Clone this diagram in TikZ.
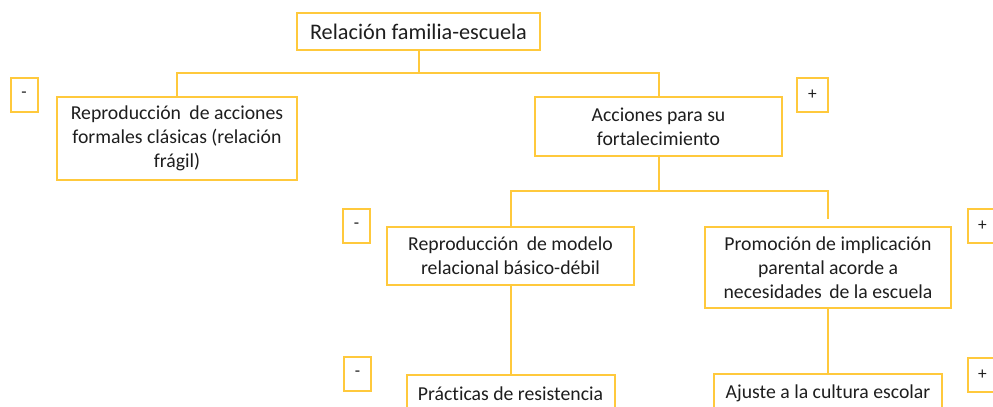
\documentclass[tikz,border=0pt]{standalone}
\usepackage{fontspec}
\setmainfont[Ligatures=NoCommon]{Carlito}
\definecolor{gold}{HTML}{FFC93C}
\definecolor{txt}{HTML}{1E1E1E}
\tikzset{
  x=0.75pt, y=-0.75pt,
  box/.style n args={2}{draw=gold, line width=1.5pt, fill=white, text=txt,
    minimum width=#1*0.75pt, minimum height=#2*0.75pt, inner sep=0pt,
    align=center, font=\fontsize{14.8pt}{18pt}\selectfont},
  sign/.style={box={#1}{34}, font=\fontsize{13pt}{14pt}\selectfont},
  link/.style={draw=gold, line width=1.5pt}
}
\begin{document}
\begin{tikzpicture}
\useasboundingbox (0,0) rectangle (993,407);
\node[box={243}{37}, font=\fontsize{16.7pt}{18pt}\selectfont] (top) at (418.5,31.5) {Relación familia-escuela};
\node[box={240}{83}] (left) at (177,138.5) {Reproducción\hspace{0.2em} de acciones\\formales clásicas (relación\\frágil)};
\node[sign={27}] (m1) at (24,95) {-};
\node[box={247}{59}] (acc) at (658.5,126.5) {Acciones para su\\fortalecimiento};
\node[sign={31}] (p1) at (812.5,95) {+};
\node[box={247}{58}] (modelo) at (510.5,256) {Reproducción\hspace{0.2em} de modelo\\relacional básico-débil};
\node[sign={27}] (m2) at (356.5,226) {-};
\node[box={246}{81}] (prom) at (828,267.5) {Promoción de implicación\\parental acorde a\\necesidades\hspace{0.15em} de la escuela};
\node[sign={29}] (p2) at (982.5,226) {+};
\node[sign={27}] (m3) at (357.5,373.5) {-};
\node[box={208}{38}, anchor=north] (prac) at (510.5,374) {Prácticas de resistencia};
\node[box={228}{38}, anchor=north] (ajuste) at (828,373) {Ajuste a la cultura escolar};
\node[sign={29}] (p3) at (982.5,375) {+};
\coordinate (j1) at (418.5,73);
\coordinate (j2) at (658.5,191);
\draw[link] (top.south) -- (j1) -| (left.north);
\draw[link] (j1) -| (acc.north);
\draw[link] (acc.south) -- (j2) -| (modelo.north);
\draw[link, shorten >=5.25pt] (j2) -| (prom.north);
\draw[link] (modelo.south) -- (prac.north);
\draw[link] (prom.south) -- (ajuste.north);
\end{tikzpicture}
\end{document}
